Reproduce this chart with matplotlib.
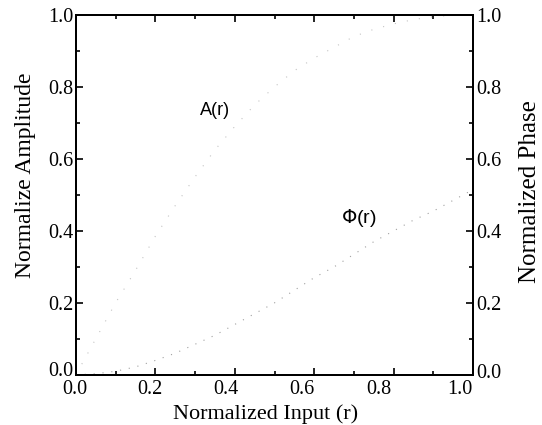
import matplotlib
matplotlib.use("Agg")
import matplotlib.pyplot as plt
from matplotlib.ticker import MultipleLocator
from matplotlib.transforms import ScaledTranslation

# values
r = [0.0, 0.05, 0.1, 0.15, 0.2, 0.25, 0.3, 0.35, 0.4, 0.45, 0.5,
     0.55, 0.6, 0.65, 0.7, 0.75, 0.8, 0.85, 0.9, 0.95, 1.0]
amp = [0.0, 0.10, 0.20, 0.29, 0.385, 0.47, 0.55, 0.625, 0.69, 0.75, 0.80,
       0.845, 0.88, 0.91, 0.94, 0.96, 0.975, 0.987, 0.995, 0.999, 1.0]
phase = [0.0, 0.003, 0.01, 0.022, 0.04, 0.06, 0.085, 0.11, 0.14, 0.17, 0.20,
         0.235, 0.27, 0.30, 0.335, 0.37, 0.40, 0.43, 0.455, 0.485, 0.515]
ticks = [0.0, 0.2, 0.4, 0.6, 0.8, 1.0]
tick_labels = ['0.0', '0.2', '0.4', '0.6', '0.8', '1.0']

plt.rcParams['font.family'] = ['Liberation Serif', 'DejaVu Serif']

fig = plt.figure(figsize=(5.42, 4.25), dpi=100)
ax = fig.add_axes([0.140, 0.118, 0.733, 0.847])
ax2 = ax.twinx()

ax.plot(r, amp, color='#c4c4c4', lw=0.8, linestyle=(0, (1, 10)))
ax2.plot(r, phase, color='#a0a0a0', lw=0.8, linestyle=(0, (1, 7)))

for a in (ax, ax2):
    a.set_xlim(0, 1)
    a.set_ylim(0, 1)
    a.set_yticks(ticks)
    a.set_yticklabels(tick_labels)
    a.yaxis.set_minor_locator(MultipleLocator(0.1))
    a.tick_params(which='both', direction='in', labelsize=14.5, width=1.2, pad=2)
    a.tick_params(which='major', length=5)
    a.tick_params(which='minor', length=3)
    for s in a.spines.values():
        s.set_linewidth(1.4)
ax.set_xticks(ticks)
ax.set_xticklabels(tick_labels)
ax.xaxis.set_minor_locator(MultipleLocator(0.1))
ax.tick_params(which='both', top=True)

# the scanned x labels sit a little left of their ticks
shifts = [-1, -5, -9, -12, -15, -13]
for lab, dx in zip(ax.get_xticklabels(), shifts):
    lab.set_transform(lab.get_transform() + ScaledTranslation(dx / 100, -2 / 100, fig.dpi_scale_trans))
ax.get_yticklabels()[0].set_transform(
    ax.get_yticklabels()[0].get_transform() + ScaledTranslation(0, 6 / 100, fig.dpi_scale_trans))
ax2.get_yticklabels()[0].set_transform(
    ax2.get_yticklabels()[0].get_transform() + ScaledTranslation(0, 4 / 100, fig.dpi_scale_trans))

ax.set_xlabel('Normalized Input (r)', fontsize=16)
ax.xaxis.set_label_coords(0.478, -0.082)
ax.set_ylabel('Normalize Amplitude', fontsize=17)
ax.yaxis.set_label_coords(-0.100, 0.555)
ax2.set_ylabel('Normalized Phase', fontsize=18)
ax2.yaxis.set_label_coords(1.115, 0.51)

ax.text(0.35, 0.733, 'A(r)', family='Liberation Sans', fontsize=13,
        ha='center', va='center')
ax.text(0.713, 0.436, r'$\Phi$(r)', family='Liberation Sans', fontsize=14,
        ha='center', va='center')

fig.savefig('out.png', dpi=100)
